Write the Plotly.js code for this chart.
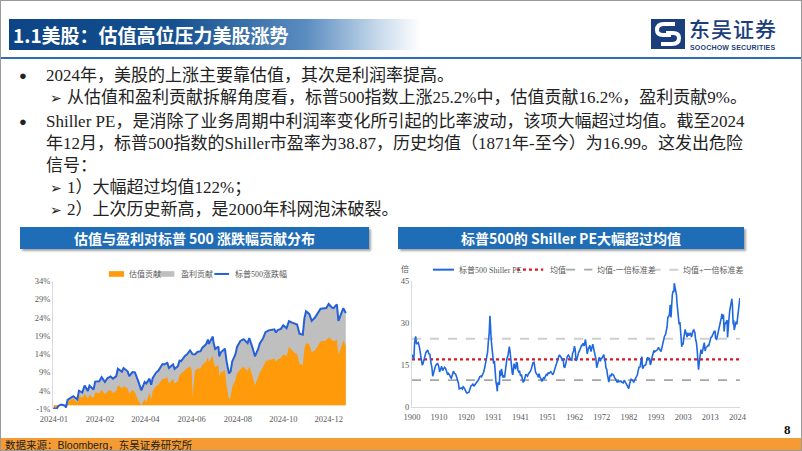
<!DOCTYPE html>
<html><head><meta charset="utf-8">
<script src="https://cdn.plot.ly/plotly-3.0.1.min.js"></script>
<style>
html,body{margin:0;padding:0;background:#fff;}
#slide{position:relative;width:802px;height:451px;overflow:hidden;background:#fff;box-sizing:border-box;border:1px solid #9a9a9a;font-family:"Liberation Serif","Noto Sans CJK SC",serif;}
.abs{position:absolute;white-space:nowrap;}
.txt{font-size:17px;color:#222;line-height:22px;}
.hdr{position:absolute;height:22px;background:#1F6DB6;box-shadow:2px 2px 2px rgba(0,0,0,0.35);color:#fff;font-family:"Noto Sans CJK SC",sans-serif;font-weight:700;font-size:14px;line-height:22px;text-align:center;}
.arrow{font-family:"DejaVu Sans",sans-serif;font-size:14px;}
</style></head>
<body>
<div id="slide">
  <div class="abs" style="left:8px;top:18px;width:412px;height:31px;background:linear-gradient(to right,#0D4486 0%,#15508F 40%,#5A8CC0 72%,#C9DBEC 90%,#FFFFFF 100%);"></div>
  <div class="abs" style="left:12px;top:18px;height:31px;line-height:31px;color:#fff;font-family:'Noto Sans CJK SC',sans-serif;font-weight:700;font-size:19px;">1.1美股：估值高位压力美股涨势</div>
  <div class="abs" style="left:0;top:56px;width:802px;height:2px;background:#2E6DB4;"></div>
  <!-- logo -->
  <svg class="abs" style="left:650px;top:18px;" width="34" height="30" viewBox="0 0 34 30">
    <rect x="0" y="0" width="34" height="30" fill="#1B3E7C"/>
    <path d="M24 5 L13 5 Q6 5 6 11 Q6 16 12 16 L20 16" stroke="#fff" stroke-width="4" fill="none"/>
    <path d="M10 25 L21 25 Q28 25 28 19 Q28 14 22 14 L15 14" stroke="#fff" stroke-width="4" fill="none"/>
  </svg>
  <div class="abs" style="left:688px;top:17px;height:21px;font-family:'Noto Sans CJK SC',sans-serif;font-size:21px;line-height:21px;color:#1B3E7C;font-weight:500;letter-spacing:1px;">东吴证券</div>
  <div class="abs" style="left:689px;top:43px;font-family:'Liberation Sans',sans-serif;font-size:7px;line-height:8px;color:#1B3E7C;font-weight:700;letter-spacing:0.2px;">SOOCHOW SECURITIES</div>

  <!-- bullets -->
  <div class="abs txt" style="left:18px;top:64px;font-size:13px;">●</div>
  <div class="abs txt" style="left:45px;top:64px;">2024年，美股的上涨主要靠估值，其次是利润率提高。</div>
  <div class="abs txt arrow" style="left:49px;top:86px;">➢</div>
  <div class="abs txt" style="left:66px;top:86px;">从估值和盈利贡献拆解角度看，标普500指数上涨25.2%中，估值贡献16.2%，盈利贡献9%。</div>
  <div class="abs txt" style="left:18px;top:110px;font-size:13px;">●</div>
  <div class="abs txt" style="left:45px;top:110px;">Shiller PE，是消除了业务周期中利润率变化所引起的比率波动，该项大幅超过均值。截至2024</div>
  <div class="abs txt" style="left:45px;top:132px;">年12月，标普500指数的Shiller市盈率为38.87，历史均值（1871年-至今）为16.99。这发出危险</div>
  <div class="abs txt" style="left:45px;top:154px;">信号：</div>
  <div class="abs txt arrow" style="left:49px;top:176px;">➢</div>
  <div class="abs txt" style="left:66px;top:176px;">1）大幅超过均值122%；</div>
  <div class="abs txt arrow" style="left:49px;top:198px;">➢</div>
  <div class="abs txt" style="left:66px;top:198px;">2）上次历史新高，是2000年科网泡沫破裂。</div>

  <!-- chart headers -->
  <div class="hdr" style="left:19px;top:226px;width:349px;">估值与盈利对标普 500 涨跌幅贡献分布</div>
  <div class="hdr" style="left:397px;top:226px;width:346px;">标普500的 Shiller PE大幅超过均值</div>

  <div id="chartL" class="abs" style="left:15px;top:250px;width:355px;height:180px;"></div>
  <div id="chartR" class="abs" style="left:395px;top:250px;width:355px;height:180px;"></div>

  <div class="abs" style="left:783px;top:421px;font-family:'Liberation Serif',serif;font-weight:700;font-size:13px;color:#111;">8</div>
  <div class="abs" style="left:0;top:437px;width:802px;height:14px;background:#F59B33;"></div>
  <div class="abs" style="left:4px;top:437px;height:14px;line-height:14px;font-size:10.5px;color:#222;font-family:'Noto Sans CJK SC',sans-serif;">数据来源：<span style="font-family:'Liberation Sans',sans-serif;">Bloomberg</span>，东吴证券研究所</div>
</div>

<script>
// ---------------- Left chart data ----------------
const tradeDates = [
"2024-01-02","2024-01-04","2024-01-08","2024-01-11","2024-01-16","2024-01-17","2024-01-19","2024-01-24","2024-01-26","2024-01-31",
"2024-02-02","2024-02-06","2024-02-09","2024-02-13","2024-02-15","2024-02-20","2024-02-22","2024-02-27",
"2024-03-01","2024-03-05","2024-03-08","2024-03-12","2024-03-15","2024-03-19","2024-03-21","2024-03-26","2024-03-28",
"2024-04-02","2024-04-04","2024-04-08","2024-04-11","2024-04-15","2024-04-19","2024-04-23","2024-04-25","2024-04-29",
"2024-05-01","2024-05-03","2024-05-07","2024-05-10","2024-05-15","2024-05-17","2024-05-21","2024-05-23","2024-05-28","2024-05-30",
"2024-06-03","2024-06-05","2024-06-07","2024-06-12","2024-06-14","2024-06-18","2024-06-20","2024-06-21","2024-06-24","2024-06-27",
"2024-07-01","2024-07-03","2024-07-08","2024-07-10","2024-07-11","2024-07-16","2024-07-17","2024-07-19","2024-07-23","2024-07-24","2024-07-26","2024-07-31",
"2024-08-02","2024-08-05","2024-08-07","2024-08-09","2024-08-13","2024-08-15","2024-08-19","2024-08-21","2024-08-23","2024-08-28","2024-08-30",
"2024-09-03","2024-09-06","2024-09-10","2024-09-12","2024-09-16","2024-09-19","2024-09-23","2024-09-26","2024-09-30",
"2024-10-02","2024-10-04","2024-10-08","2024-10-11","2024-10-15","2024-10-18","2024-10-22","2024-10-24","2024-10-28","2024-10-31",
"2024-11-04","2024-11-06","2024-11-08","2024-11-12","2024-11-15","2024-11-19","2024-11-22","2024-11-26","2024-11-29",
"2024-12-03","2024-12-06","2024-12-10","2024-12-12","2024-12-16","2024-12-18","2024-12-20","2024-12-24","2024-12-27"];
// S&P 500 YTD change (%)
const spxChange = [
-0.6,-1.4,-0.1,0.2,-0.1,-0.6,1.5,2.2,2.5,1.6,
4.0,3.5,5.4,3.9,5.4,4.3,6.5,6.6,
7.7,6.4,7.4,7.9,7.3,8.0,10.0,9.2,10.2,
9.3,8.0,9.1,9.0,6.7,4.1,6.4,6.0,7.3,
5.6,7.5,8.9,9.5,11.3,11.2,11.6,10.2,11.2,10.0,
10.7,12.2,12.1,13.6,13.9,15.0,14.2,14.0,13.9,14.6,
14.8,15.7,16.8,18.0,16.8,18.8,17.1,15.4,16.1,13.4,14.5,15.5,
12.1,8.7,9.3,12.0,14.0,16.0,17.6,17.8,18.1,17.0,18.4,
15.8,13.4,15.4,16.9,18.3,20.0,20.5,20.6,20.8,
19.9,20.6,20.9,21.9,21.1,23.0,22.6,22.5,22.1,19.6,
19.3,23.8,25.7,25.0,23.1,24.0,25.1,26.4,26.5,
26.6,27.7,26.7,26.6,27.6,23.1,24.3,26.6,25.2];
// valuation contribution (%)
const valuationContrib = [
-0.6,-1.0,-0.3,0.0,-0.3,-0.6,1.0,1.6,1.9,0.8,
2.6,2.0,3.1,1.8,2.9,2.0,3.5,3.4,
4.2,3.0,3.8,4.2,3.4,4.0,5.5,4.6,5.3,
4.6,3.3,4.2,3.6,1.4,0.0,1.8,0.8,3.5,
1.6,4.0,5.2,5.7,7.2,7.3,7.6,6.0,7.2,6.0,
6.6,8.2,8.6,9.8,10.1,10.6,9.8,2.5,9.5,10.0,
10.1,11.0,12.0,13.2,11.8,13.6,12.0,10.4,11.0,8.0,9.0,9.6,
5.4,1.5,2.4,5.0,7.0,8.8,10.0,10.3,10.5,9.4,10.6,
8.0,5.4,7.5,9.0,10.4,12.0,12.5,12.5,12.8,
12.0,12.5,13.0,14.0,13.4,16.0,15.0,14.5,14.0,11.4,
11.0,15.5,17.0,16.8,14.5,15.0,16.0,17.5,17.5,
17.8,18.6,17.8,17.5,18.0,13.9,15.0,17.8,16.2];
const leftTickDates = ["2024-01-02","2024-02-28","2024-04-24","2024-06-20","2024-08-16","2024-10-11","2024-12-06"];
const leftTickText = ["2024-01","2024-02","2024-04","2024-06","2024-08","2024-10","2024-12"];
const leftYTicks = [-1,4,9,14,19,24,29,34];
const leftYTickText = ["-1%","4%","9%","14%","19%","24%","29%","34%"];
const leftLegendNames = ["估值贡献","盈利贡献","标普500涨跌幅"];

// ---------------- Right chart data ----------------
const peYear = [
1900.0,1900.3,1900.7,1901.0,1901.4,1901.7,1902.0,1902.4,1902.8,1903.1,1903.5,1903.9,1904.2,1904.6,1904.9,
1905.3,1905.7,1906.0,1906.4,1906.8,1907.2,1907.6,1907.9,1908.3,1908.7,1909.0,1909.4,1909.8,1910.2,1910.5,
1910.9,1911.3,1911.7,1912.0,1912.4,1912.8,1913.2,1913.6,1913.9,1914.3,1914.7,1915.0,1915.4,1915.8,1916.2,
1916.6,1916.9,1917.3,1917.7,1918.0,1918.4,1918.8,1919.2,1919.5,1919.9,1920.3,1920.7,1921.0,1921.4,1921.7,
1922.1,1922.5,1922.9,1923.2,1923.6,1923.9,1924.3,1924.7,1925.0,1925.4,1925.8,1926.2,1926.5,1926.9,1927.3,
1927.7,1928.0,1928.4,1928.8,1929.1,1929.4,1929.7,1929.9,1930.2,1930.5,1930.8,1931.1,1931.4,1931.7,1932.0,
1932.3,1932.5,1932.7,1933.0,1933.3,1933.5,1933.8,1934.1,1934.4,1934.7,1935.0,1935.3,1935.6,1935.9,1936.2,
1936.5,1936.8,1937.1,1937.4,1937.7,1937.9,1938.2,1938.4,1938.7,1938.9,1939.2,1939.5,1939.8,1940.1,1940.4,
1940.7,1941.0,1941.4,1941.7,1942.0,1942.3,1942.7,1943.0,1943.4,1943.7,1944.0,1944.4,1944.7,1945.0,1945.4,
1945.8,1946.1,1946.5,1946.8,1947.1,1947.5,1947.8,1948.1,1948.4,1948.8,1949.1,1949.5,1949.8,1950.2,1950.5,
1950.9,1951.2,1951.5,1951.9,1952.2,1952.6,1952.9,1953.3,1953.7,1954.0,1954.4,1954.8,1955.1,1955.5,1955.9,
1956.2,1956.5,1956.9,1957.2,1957.6,1957.9,1958.2,1958.6,1958.9,1959.2,1959.6,1959.9,1960.2,1960.6,1960.9,
1961.2,1961.6,1961.9,1962.2,1962.5,1962.8,1963.1,1963.5,1963.9,1964.2,1964.6,1964.9,1965.2,1965.6,1965.9,
1966.1,1966.4,1966.8,1967.1,1967.5,1967.8,1968.2,1968.5,1968.9,1969.2,1969.5,1969.9,1970.1,1970.4,1970.8,
1971.1,1971.4,1971.8,1972.1,1972.5,1972.9,1973.1,1973.4,1973.7,1973.9,1974.2,1974.5,1974.8,1975.0,1975.3,
1975.6,1975.9,1976.2,1976.6,1976.9,1977.2,1977.6,1977.9,1978.2,1978.6,1978.9,1979.2,1979.6,1979.9,1980.2,
1980.5,1980.9,1981.2,1981.6,1981.9,1982.2,1982.6,1982.9,1983.2,1983.5,1983.9,1984.2,1984.5,1984.9,1985.2,
1985.6,1985.9,1986.2,1986.5,1986.9,1987.2,1987.6,1987.8,1988.0,1988.4,1988.8,1989.1,1989.5,1989.8,1990.1,
1990.5,1990.8,1991.1,1991.5,1991.9,1992.2,1992.5,1992.9,1993.2,1993.6,1993.9,1994.2,1994.6,1994.9,1995.2,
1995.6,1995.9,1996.2,1996.6,1996.9,1997.2,1997.5,1997.8,1998.1,1998.4,1998.7,1998.9,1999.2,1999.5,1999.8,
1999.95,2000.2,2000.5,2000.8,2001.0,2001.3,2001.6,2001.8,2002.1,2002.4,2002.6,2002.8,2003.0,2003.3,2003.6,
2003.9,2004.1,2004.5,2004.8,2005.1,2005.5,2005.8,2006.1,2006.5,2006.8,2007.1,2007.4,2007.8,2008.1,2008.4,
2008.7,2008.9,2009.2,2009.5,2009.8,2010.1,2010.5,2010.8,2011.1,2011.4,2011.7,2012.0,2012.4,2012.8,2013.1,
2013.5,2013.9,2014.2,2014.6,2014.9,2015.2,2015.5,2015.7,2016.1,2016.5,2016.9,2017.2,2017.6,2017.9,2018.1,
2018.4,2018.7,2018.95,2019.2,2019.5,2019.9,2020.1,2020.25,2020.5,2020.8,2021.1,2021.5,2021.9,2022.1,2022.4,
2022.6,2022.8,2023.1,2023.5,2023.8,2024.1,2024.4,2024.7,2024.95];
const peValue = [
18.7,17.8,17.0,22.9,25.2,22.5,22.7,23.0,21.5,20.0,17.0,15.0,15.5,17.0,19.0,
19.5,20.0,20.3,19.0,18.8,16.0,14.0,11.0,12.5,14.0,14.8,15.3,15.5,14.5,12.5,
13.5,14.5,13.0,13.5,14.2,13.8,12.5,11.5,12.0,11.5,10.5,10.3,11.5,12.8,12.0,
11.8,11.0,9.8,8.5,6.5,6.6,6.8,6.4,7.2,6.8,5.8,5.2,5.0,5.1,5.3,
6.5,7.6,7.8,8.3,7.4,7.8,8.3,8.7,9.3,9.8,10.8,11.0,10.8,11.6,12.4,
14.0,15.5,18.0,19.5,23.5,26.0,32.6,25.0,24.0,21.0,18.5,15.5,16.5,12.0,9.0,
7.5,5.6,8.5,8.7,8.0,13.0,11.0,13.6,12.0,10.5,11.0,10.8,13.0,15.5,17.5,
18.0,19.5,21.6,19.5,16.5,13.5,12.0,11.5,14.8,15.5,14.5,13.5,16.0,15.7,13.0,
12.5,12.7,11.0,11.6,10.0,8.8,9.3,10.3,11.7,11.3,11.0,11.9,12.2,12.6,13.4,
14.8,15.8,16.0,12.8,12.4,11.8,11.5,10.6,11.9,10.5,10.2,9.1,10.0,10.6,10.2,
10.8,11.6,11.4,12.2,12.0,12.4,12.6,12.1,11.5,12.2,13.5,14.5,16.0,17.5,18.0,
18.6,18.2,17.6,16.8,17.2,14.5,14.0,15.5,17.2,18.1,18.5,18.0,17.0,16.8,16.7,
19.2,20.0,21.7,20.5,16.5,16.8,18.5,19.5,20.2,21.2,22.0,22.0,22.8,21.8,23.5,
24.1,22.0,19.0,20.5,21.8,22.0,19.8,21.5,22.4,21.0,19.5,18.0,17.1,14.0,15.6,
16.5,17.8,16.3,17.3,17.6,18.6,18.7,16.8,16.0,14.0,13.5,11.5,8.9,8.9,10.5,
11.5,11.0,11.8,11.6,11.3,10.4,10.0,9.3,8.8,9.6,9.0,9.1,9.3,8.9,8.8,
8.6,9.6,9.0,8.4,8.1,7.3,6.6,8.2,9.2,9.9,9.6,9.3,8.9,9.7,10.2,
10.8,11.5,13.0,14.2,14.3,16.5,18.0,14.0,13.9,14.7,15.0,15.1,16.8,17.8,16.9,
17.5,15.0,15.8,17.8,18.8,20.2,19.7,20.0,20.5,20.5,21.3,20.8,19.9,19.8,21.0,
23.0,24.0,25.2,25.8,27.5,28.5,32.0,32.3,33.0,36.5,32.0,37.0,40.0,41.5,41.0,
44.2,43.0,42.0,40.0,37.0,33.5,32.0,29.5,30.3,27.0,23.5,21.5,22.9,22.3,24.8,
26.5,27.7,26.2,25.0,26.5,25.5,26.0,26.5,25.0,26.5,27.2,27.5,26.5,24.0,23.0,
20.0,15.0,13.3,16.0,19.5,20.5,19.0,20.5,22.9,23.0,20.0,21.2,21.5,22.0,21.9,
23.5,24.8,25.0,25.8,26.5,27.0,27.0,24.5,24.2,25.8,27.0,28.7,30.0,32.0,33.3,
31.5,33.0,27.0,29.5,30.0,31.0,31.0,24.8,29.5,31.5,34.5,37.0,38.6,36.5,29.5,
31.0,27.5,29.0,30.5,29.5,32.0,34.5,35.5,38.87];
const peMean = 16.99;
const peMinusSd = 9.6;
const pePlusSd = 24.4;
const rightTickVals = [1900,1910.333,1920.667,1931,1941.333,1951.667,1962,1972.333,1982.667,1993,2003.333,2013.667,2024];
const rightTickText = ["1900","1910","1920","1931","1941","1951","1962","1972","1982","1993","2003","2013","2024"];
const rightYTicks = [0,15,30,45];
const rightLegendNames = ["标普500 Shiller PE","均值","均值-一倍标准差","均值+一倍标准差"];

const tickFont = {family:"Liberation Serif, Noto Sans CJK SC, serif", size:8.5, color:"#595959"};
const legFont = {family:"Liberation Serif, Noto Sans CJK SC, serif", size:8, color:"#595959"};

// ---------- Left chart ----------
const ORANGE = "#FF9A0A", GRAY = "#BFBFBF", BLUE = "#2560DA";
const tracesL = [
  {x:tradeDates, y:spxChange, type:"scatter", mode:"lines", fill:"tozeroy", fillcolor:GRAY, line:{width:0, color:GRAY}, name:leftLegendNames[1]},
  {x:tradeDates, y:valuationContrib, type:"scatter", mode:"lines", fill:"tozeroy", fillcolor:ORANGE, line:{width:0, color:ORANGE}, name:leftLegendNames[0]},
  {x:tradeDates, y:spxChange, type:"scatter", mode:"lines", line:{width:2, color:BLUE}, name:leftLegendNames[2]}
];
const lgY = 1.055;
const layoutL = {
  width:355, height:180, margin:{l:37, r:22, t:30, b:22},
  paper_bgcolor:"rgba(0,0,0,0)", plot_bgcolor:"rgba(0,0,0,0)", showlegend:false,
  xaxis:{type:"date", range:["2024-01-01","2024-12-31"], tickvals:leftTickDates, ticktext:leftTickText, tickfont:tickFont, showgrid:false, zeroline:false, showline:false, ticks:"", ticklabelstandoff:3, automargin:false},
  yaxis:{range:[-1,34], tickvals:leftYTicks, ticktext:leftYTickText, tickfont:tickFont, showgrid:false, zeroline:false, showline:true, linecolor:"#D9D9D9", linewidth:1, ticks:"", automargin:false},
  shapes:[
    {type:"rect", xref:"paper", yref:"paper", x0:0.189, x1:0.240, y0:lgY-0.022, y1:lgY+0.022, fillcolor:ORANGE, line:{width:0}},
    {type:"rect", xref:"paper", yref:"paper", x0:0.355, x1:0.41, y0:lgY-0.022, y1:lgY+0.022, fillcolor:GRAY, line:{width:0}},
    {type:"line", xref:"paper", yref:"paper", x0:0.545, x1:0.595, y0:lgY, y1:lgY, line:{color:BLUE, width:2}}
  ],
  annotations:[
    {xref:"paper", yref:"paper", x:0.25, y:lgY, xanchor:"left", yanchor:"middle", text:leftLegendNames[0], showarrow:false, font:legFont},
    {xref:"paper", yref:"paper", x:0.425, y:lgY, xanchor:"left", yanchor:"middle", text:leftLegendNames[1], showarrow:false, font:legFont},
    {xref:"paper", yref:"paper", x:0.607, y:lgY, xanchor:"left", yanchor:"middle", text:leftLegendNames[2], showarrow:false, font:legFont}
  ]
};
Plotly.newPlot("chartL", tracesL, layoutL, {staticPlot:true, displayModeBar:false});

// ---------- Right chart ----------
const PEBLUE = "#2068E0";
const xEnds = [peYear[0], peYear[peYear.length-1]];
const tracesR = [
  {x:xEnds, y:[pePlusSd,pePlusSd], type:"scatter", mode:"lines", line:{color:"#CFCFCF", width:2, dash:"dash"}, name:rightLegendNames[3]},
  {x:xEnds, y:[peMinusSd,peMinusSd], type:"scatter", mode:"lines", line:{color:"#A6A6A6", width:1.6, dash:"dash"}, name:rightLegendNames[2]},
  {x:xEnds, y:[peMean,peMean], type:"scatter", mode:"lines", line:{color:"#E0161E", width:2.2, dash:"dot"}, name:rightLegendNames[1]},
  {x:peYear, y:peValue, type:"scatter", mode:"lines", line:{color:PEBLUE, width:1.6}, name:rightLegendNames[0]}
];
const rY = 1.09;
const layoutR = {
  width:355, height:180, margin:{l:16, r:11, t:30, b:24},
  paper_bgcolor:"rgba(0,0,0,0)", plot_bgcolor:"rgba(0,0,0,0)", showlegend:false,
  xaxis:{range:[1900,2025], tickvals:rightTickVals, ticktext:rightTickText, tickfont:tickFont, showgrid:false, zeroline:false, showline:true, linecolor:"#D9D9D9", linewidth:1, ticks:"", ticklabelstandoff:2, automargin:false},
  yaxis:{range:[0,45], tickvals:rightYTicks, tickfont:tickFont, showgrid:false, zeroline:false, showline:true, linecolor:"#D9D9D9", linewidth:1, ticks:"", automargin:false},
  shapes:[
    {type:"line", xref:"paper", yref:"paper", x0:0.064, x1:0.128, y0:rY, y1:rY, line:{color:PEBLUE, width:2}},
    {type:"line", xref:"paper", yref:"paper", x0:0.32, x1:0.40, y0:rY, y1:rY, line:{color:"#E0161E", width:2.2, dash:"dot"}},
    {type:"line", xref:"paper", yref:"paper", x0:0.47, x1:0.55, y0:rY, y1:rY, line:{color:"#A6A6A6", width:1.6, dash:"dash"}},
    {type:"line", xref:"paper", yref:"paper", x0:0.73, x1:0.812, y0:rY, y1:rY, line:{color:"#CFCFCF", width:2, dash:"dash"}}
  ],
  annotations:[
    {xref:"paper", yref:"paper", x:-0.022, y:1.095, xanchor:"center", yanchor:"middle", text:"倍", showarrow:false, font:legFont},
    {xref:"paper", yref:"paper", x:0.137, y:rY, xanchor:"left", yanchor:"middle", text:rightLegendNames[0], showarrow:false, font:legFont},
    {xref:"paper", yref:"paper", x:0.415, y:rY, xanchor:"left", yanchor:"middle", text:rightLegendNames[1], showarrow:false, font:legFont},
    {xref:"paper", yref:"paper", x:0.559, y:rY, xanchor:"left", yanchor:"middle", text:rightLegendNames[2], showarrow:false, font:legFont},
    {xref:"paper", yref:"paper", x:0.821, y:rY, xanchor:"left", yanchor:"middle", text:rightLegendNames[3], showarrow:false, font:legFont}
  ]
};
Plotly.newPlot("chartR", tracesR, layoutR, {staticPlot:true, displayModeBar:false});
</script>
</body></html>
